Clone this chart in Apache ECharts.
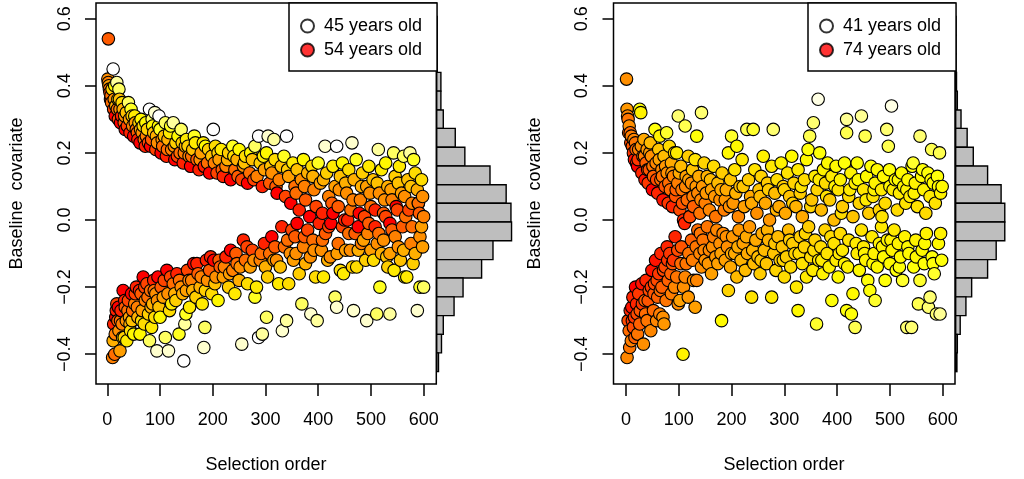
<!DOCTYPE html>
<html>
<head>
<meta charset="utf-8">
<script src="https://cdn.jsdelivr.net/npm/echarts@6/dist/echarts.min.js"></script>
<style>html,body{margin:0;padding:0;background:#fff}#c{width:1024px;height:479px}</style>
</head>
<body>
<div id="c"></div>
<script>
// ---------- data ----------
const xTicks = [0, 100, 200, 300, 400, 500, 600];
const yTicks = [-0.4, -0.2, 0.0, 0.2, 0.4, 0.6];
const xTitle = 'Selection order';
const yTitle = 'Baseline  covariate';
const leftLegend = ['45 years old', '54 years old'];
const rightLegend = ['41 years old', '74 years old'];
const leftAgeRange = [45, 54];
const rightAgeRange = [41, 74];

// histogram bin edges (covariate units, top to bottom) and counts
const histEdges = [0.607, 0.551, 0.495, 0.440, 0.384, 0.328, 0.273, 0.217, 0.161, 0.105, 0.050,
  -0.006, -0.062, -0.118, -0.173, -0.229, -0.285, -0.341, -0.396, -0.452];
const leftHistCounts = [1, 1, 1, 7, 7, 11, 31, 47, 89, 116, 124, 125, 94, 75, 44, 29, 11, 8, 3];
const rightHistCounts = [1, 1, 1, 2, 4, 13, 28, 43, 78, 111, 120, 120, 99, 78, 39, 25, 11, 4, 3];

// points: [selection order, baseline covariate, age]
const leftUpper = [
[2,0.54,52.5],[1,0.42,51],[2,0.41,51.5],[3,0.40,50.5],[4,0.39,52],[5,0.38,53],[6,0.36,53.5],[8,0.35,52],[11,0.45,45],[14,0.40,47.5],[18,0.41,46],[22,0.39,46.5],[20,0.36,48],[16,0.34,50],[12,0.33,53],[24,0.33,51],[27,0.31,53.5],[28,0.35,48.5],
[32,0.29,52.5],[34,0.27,54],[36,0.32,49.5],[40,0.35,46.5],[42,0.30,50.5],[45,0.33,47],[48,0.28,51.5],[50,0.25,54],[52,0.31,48],[55,0.27,52],[58,0.24,53.5],[60,0.29,49],[62,0.23,54],[64,0.30,47.5],[66,0.26,51],[68,0.28,48.5],
[72,0.22,53.5],[74,0.25,51.5],[76,0.27,49],[80,0.33,45],[82,0.22,54],[84,0.24,52.5],[86,0.28,47.5],[88,0.26,49.5],[90,0.32,45.5],[92,0.21,53],[95,0.23,51],[98,0.31,45],[100,0.27,47],[102,0.20,54],[105,0.22,52],[108,0.25,49.5],[110,0.29,46.5],[112,0.19,53.5],[115,0.24,50],[118,0.26,48],
[122,0.21,51.5],[125,0.29,46],[128,0.18,54],[130,0.23,49],[134,0.25,47.5],[138,0.20,52],[140,0.27,46.5],[144,0.17,53.5],[148,0.22,50],[150,0.24,48],[155,0.19,51.5],[158,0.16,54],[162,0.21,49.5],[165,0.25,47],[170,0.18,52.5],[174,0.15,53.5],[178,0.20,50.5],[182,0.23,48],[186,0.22,47.5],[190,0.17,52],[194,0.14,54],[198,0.19,49.5],[201,0.27,45],[205,0.22,48.5],[208,0.14,53],
[212,0.18,50.5],[216,0.21,48],[220,0.13,53.5],[225,0.16,51.5],[230,0.20,49],[234,0.12,54],[238,0.22,47],[242,0.15,52],[246,0.18,50],[250,0.21,47.5],[255,0.12,53],[258,0.16,51],[262,0.19,48.5],[266,0.11,54],[270,0.14,52],[275,0.18,49.5],[280,0.22,46.5],[284,0.13,51.5],[287,0.25,45],[290,0.17,49],[294,0.10,53.5],[298,0.15,50.5],
[302,0.20,47.5],[305,0.25,45.5],[308,0.11,52.5],[312,0.14,51],[316,0.24,46],[318,0.18,48.5],[322,0.08,54],[326,0.12,51.5],[330,0.16,49.5],[335,0.19,47],[338,0.07,53],[340,0.25,45],[344,0.13,50.5],[348,0.05,54],[352,0.17,48],[356,0.10,52],[360,0.15,49.5],[364,0.03,53.5],[368,0.12,51],[372,0.18,47.5],[376,0.06,52.5],[380,0.14,50],[384,0.01,54],[388,0.16,48.5],[392,0.09,51.5],[396,0.04,53],
[400,0.17,47],[404,0.11,50.5],[408,0.02,53.5],[413,0.22,45.5],[416,0.14,49],[420,0.07,51.5],[424,-0.01,54],[428,0.16,48],[432,0.10,50.5],[435,0.22,45],[438,0.04,52.5],[442,0.13,49.5],[446,0.17,47.5],[450,0.00,53.5],[454,0.08,51],[458,0.15,48.5],[462,0.03,52],[464,0.23,45.5],[468,0.12,50],[472,0.18,47],[476,-0.02,54],[480,0.06,51.5],[484,0.14,49],[488,0.01,53],[492,0.10,50.5],[496,0.16,48],
[500,0.04,52],[504,0.12,49.5],[508,-0.02,53.5],[514,0.21,46],[516,0.08,51],[520,0.15,48],[524,0.02,52.5],[528,0.17,47.5],[532,0.10,50],[536,-0.01,54],[540,0.06,51.5],[543,0.20,46.5],[546,0.13,49],[550,0.03,53],[554,0.16,48],[558,0.08,50.5],[562,0.19,46.5],[566,0.01,52],[570,0.12,49.5],[574,0.20,46],[578,0.05,51.5],[581,0.18,47],[584,0.14,48.5],[588,0.09,50],[592,0.02,52.5],[596,0.12,48.5],[598,0.07,51],
[7,0.37,52],[9,0.39,49],[13,0.36,51],[15,0.31,54],[19,0.33,52],[21,0.30,53],[23,0.36,49.5],[25,0.29,54],[30,0.33,50],[33,0.31,51],[38,0.28,53],[43,0.26,53.5],[47,0.31,49],[53,0.29,50.5],[57,0.26,52.5],[63,0.27,50],[70,0.24,52],[73,0.29,47.5],[78,0.23,53],[85,0.30,46.5],[93,0.25,50],[97,0.28,47.5],[104,0.24,51],[114,0.21,52],[120,0.28,47],[127,0.22,51],[133,0.19,53],[142,0.23,49],[146,0.20,51.5],[153,0.22,49],[160,0.19,52],[167,0.23,48],[176,0.18,51],[184,0.16,53.5],[192,0.21,49],[203,0.17,51.5],[210,0.20,49],[218,0.15,52.5],[228,0.18,50],[240,0.19,48.5],[248,0.13,52.5],[260,0.17,49.5],[272,0.20,47.5],[278,0.12,53],[296,0.19,48],[310,0.16,49.5],[320,0.10,52.5],[342,0.15,49],[358,0.08,52],[374,0.10,51.5],[390,0.13,50],[410,0.12,50],[426,0.05,52.5],[440,0.09,51],[452,0.11,50],[466,0.06,51.5],[482,0.10,50],[498,0.08,51],[512,0.11,49.5],[526,0.06,51],[538,0.09,50.5],[552,0.11,49.5],[564,0.07,51],[576,0.10,49.5],[590,0.05,51.5]
];
const leftLower = [
[10,-0.41,51.5],[14,-0.40,52],[12,-0.31,53.5],[16,-0.29,54],[18,-0.25,53],[20,-0.30,52.5],[22,-0.33,51],[24,-0.39,50.5],[26,-0.27,53.5],[28,-0.31,51.5],[30,-0.21,54],[32,-0.35,49],[34,-0.26,52.5],[36,-0.30,51],[37,-0.36,48],[40,-0.24,53],[42,-0.29,50.5],[44,-0.33,48.5],[46,-0.22,54],[48,-0.27,52],
[50,-0.34,47.5],[52,-0.25,51.5],[55,-0.20,53.5],[58,-0.29,50],[62,-0.34,47.5],[64,-0.22,52.5],[66,-0.27,50.5],[68,-0.17,54],[70,-0.31,48.5],[72,-0.24,51.5],[75,-0.19,53],[78,-0.28,49],[80,-0.36,46.5],[82,-0.21,52],[84,-0.32,48],[86,-0.25,50],[88,-0.18,53.5],[90,-0.29,48.5],[92,-0.22,51],[94,-0.39,45.5],[96,-0.17,54],[98,-0.26,49.5],
[102,-0.20,52.5],[106,-0.23,50.5],[110,-0.35,46.5],[113,-0.15,54],[116,-0.39,45.5],[118,-0.27,48.5],[122,-0.25,48],[125,-0.19,52],[128,-0.22,50],[132,-0.16,53.5],[136,-0.34,47],[140,-0.20,51],[145,-0.42,45],[147,-0.31,46],[150,-0.21,50.5],[152,-0.15,53],[156,-0.26,48],[160,-0.18,51.5],[164,-0.13,54],[168,-0.23,49],[172,-0.16,52.5],[176,-0.20,50],[180,-0.25,48],[183,-0.38,45.5],[185,-0.32,46.5],[188,-0.12,53.5],[190,-0.18,51],[194,-0.15,52.5],[198,-0.22,48.5],
[202,-0.12,54],[206,-0.17,51],[210,-0.24,47.5],[214,-0.14,52.5],[220,-0.17,50.5],[225,-0.11,53.5],[230,-0.20,49],[234,-0.09,54],[238,-0.15,51.5],[242,-0.22,48],[246,-0.13,52],[250,-0.18,50],[255,-0.37,45.5],[258,-0.06,53.5],[262,-0.12,52],[266,-0.19,48.5],[271,-0.14,50.5],[275,-0.09,53],[280,-0.23,47],[283,-0.20,48],[287,-0.35,45],[290,-0.12,51.5],[294,-0.34,46],[298,-0.07,53.5],
[302,-0.29,46.5],[304,-0.17,49],[308,-0.10,52],[312,-0.05,54],[316,-0.12,50.5],[321,-0.12,51],[325,-0.19,48],[331,-0.02,53.5],[332,-0.33,45.5],[336,-0.08,52],[340,-0.30,46],[344,-0.19,48.5],[347,-0.10,51],[350,-0.03,53],[353,-0.12,50.5],[356,-0.05,52.5],[360,-0.01,54],[364,-0.16,49],[369,-0.25,46.5],[372,-0.08,51.5],[376,-0.13,50],[380,-0.03,53],[385,-0.11,51],[386,-0.28,45.5],[390,-0.06,52],[395,-0.17,48.5],[398,-0.30,46],
[402,-0.01,53.5],[406,-0.09,51],[410,-0.17,48],[414,-0.04,52.5],[418,-0.12,50],[423,-0.11,51],[428,0.02,54],[432,-0.23,46.5],[435,-0.26,45.5],[438,-0.07,52],[442,-0.15,48.5],[446,-0.02,53],[448,-0.16,48],[452,-0.09,50.5],[456,0.00,53.5],[461,-0.09,51],[465,-0.14,49],[467,-0.27,45.5],[470,-0.04,52.5],[473,-0.14,48.5],[478,0.02,54],[482,-0.07,51.5],[486,-0.06,50.5],[490,-0.12,49],[492,-0.30,45.5],
[496,-0.01,52.5],[500,-0.09,50.5],[505,-0.12,48.5],[508,0.03,53.5],[511,-0.28,46.5],[515,-0.04,52],[517,-0.20,47],[520,-0.10,50],[524,-0.06,51],[528,0.01,53],[532,-0.14,49],[536,-0.10,50.5],[536,-0.28,46],[540,-0.03,52.5],[544,-0.15,48],[548,0.04,54],[552,-0.08,51],[556,-0.12,49.5],[560,-0.02,52.5],[564,-0.17,47.5],[568,-0.17,48],[572,0.03,53],[576,-0.07,51.5],[580,-0.13,49],[584,-0.10,50],[588,-0.27,45.5],[590,0.05,52],[593,-0.05,51],[593,-0.20,47],[596,-0.02,50.5],[600,-0.20,46.5],[600,0.01,51.5],
[11,-0.36,50],[15,-0.34,51.5],[17,-0.27,53.5],[21,-0.26,54],[25,-0.30,52],[29,-0.35,48.5],[33,-0.24,53.5],[39,-0.27,52],[43,-0.31,50],[47,-0.30,49.5],[53,-0.22,53],[57,-0.26,51.5],[61,-0.21,53.5],[65,-0.30,48.5],[71,-0.20,53],[77,-0.23,52],[83,-0.26,50],[89,-0.21,52],[95,-0.24,51],[100,-0.29,47.5],[108,-0.18,53],[115,-0.22,51],[120,-0.17,53],[130,-0.24,49],[137,-0.18,52],[143,-0.22,50],[149,-0.28,47],[155,-0.18,51.5],[162,-0.21,50],[170,-0.13,53.5],[178,-0.17,51.5],[186,-0.21,49],[196,-0.11,53.5],[204,-0.19,49.5],[212,-0.12,52.5],[222,-0.14,51.5],[232,-0.16,50.5],[244,-0.10,52.5],[252,-0.14,51],[265,-0.08,53],[278,-0.12,51],[292,-0.10,52],[300,-0.14,50],[318,-0.08,52.5],[328,-0.14,49.5],[342,-0.06,52],[358,-0.10,51],[374,-0.05,52.5],[392,-0.09,51],[408,-0.06,52],[420,-0.02,53],[436,-0.10,50.5],[458,-0.04,52],[476,-0.09,50],[494,-0.04,51.5],[512,-0.07,51],[530,-0.11,49.5],[546,-0.05,51.5],[562,-0.09,50],[578,-0.02,52],[598,-0.08,50.5]
];
const rightUpper = [
[1,0.42,63],[2,0.33,62],[3,0.31,64],[4,0.30,66],[6,0.28,63],[8,0.26,67],[10,0.25,65],[12,0.22,69],[14,0.20,71],[16,0.18,73],[18,0.23,66],[20,0.17,72],[22,0.16,74],[24,0.21,65],[26,0.33,49],[28,0.32,51],[30,0.14,72],[32,0.19,66],[34,0.24,60],[36,0.12,73],[38,0.17,68],[40,0.21,62],[42,0.11,71],[44,0.15,69],[46,0.23,58],[48,0.19,63],[50,0.09,74],
[52,0.13,68],[55,0.27,49],[57,0.17,64],[60,0.08,72],[62,0.21,57],[64,0.25,51],[66,0.12,67],[68,0.15,64],[70,0.06,73],[72,0.19,58],[74,0.10,69],[77,0.26,48],[78,0.14,63],[80,0.05,71],[82,0.22,54],[84,0.09,67],[86,0.17,60],[88,0.04,72],[90,0.13,64],[92,0.20,55],[94,0.07,69],[96,0.20,52],[98,0.11,65],[99,0.31,46],
[102,0.03,70],[104,0.16,58],[106,0.09,66],[109,0.00,72],[112,0.28,47],[114,0.13,61],[116,0.06,67],[118,0.19,56],[121,0.01,70],[124,0.11,63],[126,0.15,57],[128,0.04,68],[131,0.18,53],[134,0.25,49],[136,0.08,64],[138,0.13,60],[140,0.02,66],[143,0.32,46],[145,0.10,62],[148,0.17,55],[150,0.05,65],[154,0.13,59],[158,0.03,64],[162,0.09,61],[166,0.16,54],[170,0.01,66],[174,0.11,58],[178,0.06,63],[182,0.14,56],[186,0.03,65],[190,0.09,60],[194,0.20,50],[198,0.12,57],
[200,0.25,48],[203,0.05,62],[206,0.15,53],[210,0.22,50],[213,0.01,64],[216,0.10,58],[220,0.18,52],[224,0.04,61],[229,0.27,47],[232,0.12,56],[236,0.07,60],[241,0.27,48],[244,0.15,53],[248,0.02,63],[252,0.09,57],[256,0.13,55],[260,0.19,51],[264,0.05,60],[268,0.11,56],[272,0.00,62],[276,0.16,52],[279,0.27,46],[282,0.08,58],[286,0.12,54],[290,0.04,60],[294,0.17,51],[298,0.10,56],
[302,0.02,60],[306,0.14,53],[310,0.07,57],[314,0.19,50],[318,0.11,55],[322,0.04,59],[326,0.15,52],[330,0.08,56],[334,0.01,60],[338,0.12,54],[342,0.18,50],[345,0.21,49],[348,0.25,47],[352,0.06,57],[355,0.29,46],[358,0.13,52],[362,0.09,55],[364,0.36,42],[367,0.20,49],[370,0.03,58],[374,0.15,51],[378,0.11,54],[382,0.17,50],[386,0.06,56],[390,0.13,52],[394,0.00,58],[398,0.16,50],
[402,0.09,53],[406,0.12,51],[410,0.04,56],[414,0.17,49],[418,0.30,45],[418,0.26,47],[422,0.07,54],[426,0.14,51],[430,0.01,57],[434,0.11,52],[438,0.17,49],[442,0.05,55],[446,0.31,45],[450,0.09,53],[453,0.25,47],[456,0.13,50],[460,0.02,56],[464,0.16,49],[468,0.07,53],[472,0.11,51],[476,0.15,50],[480,0.03,55],[484,0.09,52],[488,0.13,50],[491,0.05,54],[494,0.27,46],[497,0.22,47],[499,0.15,49],
[503,0.34,42],[506,0.09,52],[510,0.12,51],[514,0.03,54],[518,0.08,52],[522,0.14,50],[526,0.10,51],[530,0.05,53],[534,0.12,50],[538,0.07,52],[542,0.16,49],[544,0.17,48],[548,0.11,51],[552,0.04,53],[557,0.25,46],[560,0.13,50],[564,0.09,51],[568,0.02,54],[572,0.14,49],[576,0.07,52],[579,0.21,47],[582,0.11,50],[586,0.05,53],[590,0.13,49],[594,0.20,47],[596,0.08,51],[599,0.10,50],
[5,0.26,68],[9,0.23,70],[15,0.24,64],[19,0.21,68],[23,0.18,71],[29,0.22,63],[35,0.19,65],[41,0.15,70],[45,0.20,62],[51,0.16,66],[58,0.12,70],[63,0.18,61],[69,0.13,66],[75,0.16,62],[81,0.11,67],[87,0.14,62],[95,0.09,68],[101,0.14,60],[107,0.05,69],[113,0.10,64],[119,0.12,61],[127,0.07,65],[133,0.10,62],[142,0.06,64],[152,0.08,62],[160,0.12,58],[168,0.07,62],[180,0.09,60],[188,0.06,62],[196,0.04,63],[208,0.08,59],[222,0.10,57],[238,0.05,60],[254,0.07,58],[270,0.09,56],[285,0.03,59],[300,0.09,55],[316,0.05,56],[332,0.10,53],[350,0.04,55],[366,0.12,52],[380,0.07,53],[396,0.10,51],[408,0.02,54],[424,0.09,52],[440,0.12,50],[455,0.06,52],[470,0.09,51],[485,0.01,53],[500,0.10,50],[516,0.12,50],[532,0.09,51],[546,0.08,51],[562,0.15,49],[578,0.12,50],[592,0.10,50]
];
const rightLower = [
[2,-0.41,64],[4,-0.30,70],[6,-0.33,67],[8,-0.27,72],[10,-0.36,65],[11,-0.26,73],[13,-0.23,72],[14,-0.32,70],[16,-0.29,71],[18,-0.20,74],[20,-0.25,72],[22,-0.34,66],[24,-0.22,71],[27,-0.27,69],[30,-0.19,73],[33,-0.37,63],[36,-0.24,68],[38,-0.18,72],[40,-0.30,66],[44,-0.21,70],[47,-0.33,64],[49,-0.15,73],
[52,-0.27,67],[54,-0.19,70],[56,-0.12,73],[58,-0.30,64],[60,-0.23,68],[62,-0.16,71],[64,-0.28,65],[66,-0.10,72],[68,-0.20,68],[70,-0.29,63],[72,-0.31,62],[74,-0.14,70],[76,-0.24,66],[78,-0.08,72],[80,-0.18,68],[83,-0.10,71],[86,-0.22,65],[88,-0.13,69],[90,-0.12,71],[93,-0.05,72],[96,-0.17,66],[99,-0.25,63],
[102,-0.24,61],[105,-0.08,69],[108,-0.40,51],[109,-0.20,63],[111,-0.01,72],[114,-0.13,66],[118,-0.23,62],[121,0.01,70],[124,-0.06,68],[128,-0.18,63],[131,-0.26,61],[134,-0.18,64],[136,-0.03,67],[140,-0.10,64],[143,-0.14,63],[146,-0.06,66],[150,-0.12,63],[154,-0.02,66],[158,-0.09,64],[162,-0.16,61],[166,-0.05,65],[170,-0.11,62],[174,-0.13,61],[178,-0.07,63],[181,-0.30,50],[184,-0.04,64],[188,-0.12,61],[192,-0.08,63],[194,-0.21,55],[198,-0.14,60],
[202,-0.05,62],[206,-0.10,60],[210,-0.17,58],[214,-0.03,62],[218,-0.12,59],[222,-0.07,61],[226,-0.15,58],[230,-0.10,60],[234,-0.02,62],[238,-0.23,53],[242,-0.13,58],[246,-0.06,60],[250,-0.11,58],[254,-0.16,56],[258,-0.04,60],[262,-0.09,58],[266,-0.13,57],[270,-0.06,59],[276,-0.23,52],[280,-0.10,57],[284,-0.15,55],[288,-0.05,58],[292,-0.12,56],[296,-0.08,57],
[300,-0.17,54],[304,-0.11,56],[308,-0.03,58],[312,-0.14,54],[316,-0.07,56],[320,-0.10,55],[323,-0.20,52],[326,-0.27,50],[330,-0.05,56],[334,-0.13,53],[338,-0.08,55],[342,-0.17,52],[346,-0.02,56],[350,-0.11,54],[354,-0.15,52],[358,-0.06,55],[361,-0.31,48],[365,-0.12,53],[369,-0.08,54],[373,-0.16,51],[377,-0.03,55],[381,-0.10,53],[385,-0.14,51],[390,-0.24,49],[394,-0.07,53],[398,-0.12,52],
[402,-0.17,50],[406,-0.04,54],[410,-0.09,52],[414,-0.13,51],[418,-0.27,49],[422,-0.06,53],[427,-0.28,49],[430,-0.22,50],[434,-0.32,47],[438,-0.10,52],[442,-0.15,50],[446,-0.03,53],[450,-0.08,52],[454,-0.12,51],[458,-0.18,49],[462,-0.21,49],[466,-0.05,52],[470,-0.10,51],[472,-0.24,48],[476,-0.14,50],[480,-0.07,51],[484,-0.02,52],[488,-0.11,50],[491,-0.18,49],[495,-0.06,51],
[500,-0.13,50],[504,-0.09,51],[508,-0.03,52],[512,-0.15,49],[516,-0.07,51],[520,-0.11,50],[524,-0.18,48],[528,-0.05,51],[532,-0.32,46],[536,-0.10,50],[541,-0.32,46],[545,-0.14,49],[549,-0.06,51],[554,-0.25,47],[557,-0.18,48],[561,-0.09,50],[565,-0.13,49],[569,-0.04,51],[573,-0.26,46],[576,-0.23,46],[580,-0.11,49],[584,-0.16,48],[588,-0.28,46],[592,-0.07,50],[595,-0.28,45],[598,-0.12,49],
[7,-0.38,66],[12,-0.30,71],[17,-0.35,68],[21,-0.28,70],[26,-0.31,68],[31,-0.25,71],[37,-0.28,67],[42,-0.24,69],[48,-0.20,71],[53,-0.22,69],[59,-0.18,70],[65,-0.21,67],[71,-0.15,70],[79,-0.12,71],[85,-0.16,68],[92,-0.20,64],[98,-0.09,70],[104,-0.13,67],[112,-0.17,64],[119,-0.10,66],[126,-0.12,65],[133,-0.08,66],[141,-0.04,66],[148,-0.09,64],[156,-0.13,62],[164,-0.08,63],[172,-0.03,64],[180,-0.10,61],[190,-0.05,63],[200,-0.10,60],[212,-0.08,60],[228,-0.05,60],[240,-0.09,59],[256,-0.12,57],[268,-0.03,59],[282,-0.07,57],[298,-0.12,55],[310,-0.06,56],[328,-0.10,54],[340,-0.04,55],[356,-0.09,54],[371,-0.12,52],[388,-0.05,54],[404,-0.10,52],[420,-0.14,51],[436,-0.07,52],[452,-0.10,51],[468,-0.13,50],[486,-0.08,51],[502,-0.06,51],[518,-0.14,49],[534,-0.08,50],[550,-0.11,50],[566,-0.07,50],[582,-0.13,49],[596,-0.04,51]
];

// ---------- chart ----------
const heat = ['#FFFFFF','#FFFF90','#FFFF00','#FFE000','#FFC000','#FF9A00','#FF7800','#FF4C00','#FF0000'];
const FONT = "'Liberation Sans', Arial, Helvetica, sans-serif";
const FS = 18;
const byOrder = (a, b) => a[0] - b[0];
const leftPts = leftUpper.concat(leftLower).sort(byOrder);
const rightPts = rightUpper.concat(rightLower).sort(byOrder);
function histData(counts) {
  return counts.map((c, i) => [histEdges[i + 1], histEdges[i], c]);
}
const yFmt = v => (v < 0 ? '\u2212' : '') + Math.abs(v).toFixed(1);

const Y_MIN = -0.4888, Y_MAX = 0.6468;
const TOP = 3, BOTTOM = 479 - 384;
const panels = [
  { left: 96, right: 436.3, xmin: -21.5, xmax: 624, histLeft: 436.7 },
  { left: 613.5, right: 955, xmin: -23.7, xmax: 623.3, histLeft: 955.7 }
];

const grid = [], xAxis = [], yAxis = [];
panels.forEach((p, i) => {
  grid.push({ left: p.left, top: TOP, width: p.right - p.left, bottom: BOTTOM,
    show: true, borderColor: '#000', borderWidth: 1.5, backgroundColor: 'transparent', z: 3 });
  xAxis.push({ type: 'value', gridIndex: i, min: p.xmin, max: p.xmax, position: 'bottom',
    axisLine: { show: false, onZero: false }, splitLine: { show: false },
    axisTick: { show: true, inside: false, length: 12, customValues: xTicks, lineStyle: { color: '#000', width: 1.5 } },
    axisLabel: { show: true, customValues: xTicks, margin: 27, color: '#000', fontSize: FS, fontFamily: FONT } });
  yAxis.push({ type: 'value', gridIndex: i, min: Y_MIN, max: Y_MAX, position: 'left',
    axisLine: { show: false, onZero: false }, splitLine: { show: false },
    axisTick: { show: true, inside: false, length: 11, customValues: yTicks, lineStyle: { color: '#000', width: 1.5 } },
    axisLabel: { show: true, customValues: yTicks, rotate: 90, margin: 22, color: '#000', fontSize: FS, fontFamily: FONT, formatter: yFmt } });
});
panels.forEach((p, i) => {
  grid.push({ left: p.histLeft, top: TOP, width: 100, bottom: BOTTOM, show: false });
  xAxis.push({ type: 'value', gridIndex: 2 + i, min: 0, max: 167, show: false });
  yAxis.push({ type: 'value', gridIndex: 2 + i, min: Y_MIN, max: Y_MAX, show: false });
});

function histRender(params, api) {
  const lo = api.value(0), hi = api.value(1), c = api.value(2);
  const p1 = api.coord([0, hi]);
  const p2 = api.coord([c, lo]);
  return { type: 'rect', shape: { x: p1[0], y: p1[1], width: p2[0] - p1[0], height: p2[1] - p1[1] },
    style: { fill: '#BEBEBE', stroke: '#000', lineWidth: 1.4 } };
}

const ptStyle = { borderColor: '#000', borderWidth: 1.1, opacity: 1 };
const series = [
  { type: 'scatter', name: 'left', xAxisIndex: 0, yAxisIndex: 0, data: leftPts, symbol: 'circle', symbolSize: 12.5, itemStyle: ptStyle, z: 2 },
  { type: 'scatter', name: 'right', xAxisIndex: 1, yAxisIndex: 1, data: rightPts, symbol: 'circle', symbolSize: 12.5, itemStyle: ptStyle, z: 2 },
  { type: 'custom', xAxisIndex: 2, yAxisIndex: 2, data: histData(leftHistCounts), renderItem: histRender, encode: { x: 2, y: [0, 1] }, z: 2 },
  { type: 'custom', xAxisIndex: 3, yAxisIndex: 3, data: histData(rightHistCounts), renderItem: histRender, encode: { x: 2, y: [0, 1] }, z: 2 },
  { type: 'scatter', name: leftLegend[0], xAxisIndex: 0, yAxisIndex: 0, data: [], itemStyle: { color: '#FFFFFF', borderColor: '#000', borderWidth: 1.2 } },
  { type: 'scatter', name: leftLegend[1], xAxisIndex: 0, yAxisIndex: 0, data: [], itemStyle: { color: '#FF0000', borderColor: '#000', borderWidth: 1.2 } },
  { type: 'scatter', name: rightLegend[0], xAxisIndex: 1, yAxisIndex: 1, data: [], itemStyle: { color: '#FFFFFF', borderColor: '#000', borderWidth: 1.2 } },
  { type: 'scatter', name: rightLegend[1], xAxisIndex: 1, yAxisIndex: 1, data: [], itemStyle: { color: '#FF0000', borderColor: '#000', borderWidth: 1.2 } }
];

function legendFor(names, left) {
  return { data: names, left: left, top: TOP, orient: 'vertical', icon: 'circle',
    itemWidth: 13, itemHeight: 13, itemGap: 6, selectedMode: false,
    padding: [14, 15, 12, 11], backgroundColor: '#fff', borderColor: '#000', borderWidth: 1.5, borderRadius: 0,
    textStyle: { color: '#000', fontSize: FS, fontFamily: FONT, padding: [0, 0, 0, 5] }, z: 10 };
}

function txt(x, y, text, rot) {
  return { type: 'text', x: x, y: y, rotation: rot || 0, z: 10,
    style: { text: text, fill: '#000', fontSize: FS, fontFamily: FONT, align: 'center', verticalAlign: 'middle' } };
}

const option = {
  animation: false,
  backgroundColor: '#fff',
  grid, xAxis, yAxis, series,
  visualMap: [
    { type: 'continuous', show: false, seriesIndex: 0, dimension: 2, min: leftAgeRange[0], max: leftAgeRange[1], inRange: { color: heat } },
    { type: 'continuous', show: false, seriesIndex: 1, dimension: 2, min: rightAgeRange[0], max: rightAgeRange[1], inRange: { color: heat } }
  ],
  legend: [legendFor(leftLegend, 289), legendFor(rightLegend, 808)],
  graphic: [
    txt(266, 465, xTitle), txt(784, 465, xTitle),
    txt(17, 193.5, yTitle, Math.PI / 2), txt(535.5, 193.5, yTitle, Math.PI / 2)
  ]
};

const chart = echarts.init(document.getElementById('c'), null, { renderer: 'canvas' });
chart.setOption(option);
</script>
</body>
</html>
